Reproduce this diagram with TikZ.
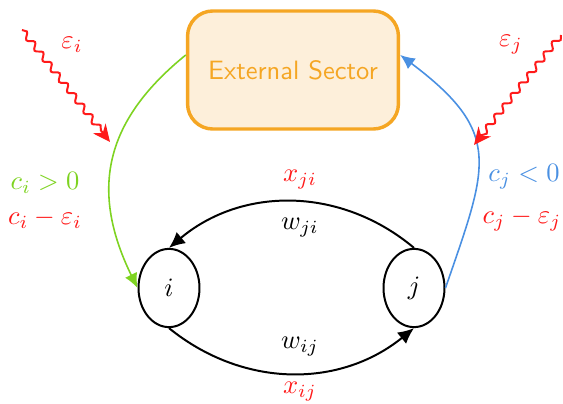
\documentclass[tikz,border=0pt]{standalone}
\usetikzlibrary{arrows.meta,shapes.geometric,decorations.pathmorphing}
\definecolor{cgreen}{HTML}{7ED321}
\definecolor{cblue}{HTML}{4A90E2}
\definecolor{corange}{HTML}{F5A623}
\definecolor{cfill}{HTML}{FDEFDA}
\definecolor{cred}{HTML}{FF1A1A}
\begin{document}
\begin{tikzpicture}[x=0.377pt,y=0.377pt,
  agent/.style={draw,ellipse,line width=0.75pt,minimum width=23pt,minimum height=29.5pt,inner sep=0pt},
  sector/.style={draw=corange,fill=cfill,line width=1.3pt,rounded corners=9.5pt,minimum width=79.5pt,minimum height=44.5pt,text=corange,font=\sffamily},
  flow/.style={line width=0.75pt,-{Latex[length=6pt,width=5.5pt]}},
  cflow/.style={line width=0.6pt,-{Latex[length=5.5pt,width=5pt]}},
  shock/.style={cred,line width=0.75pt,-{Stealth[length=6.5pt,width=6pt]},decorate,decoration={snake,amplitude=1.1pt,segment length=5pt,post length=4pt}},
  lab/.style={inner sep=0pt}]
\useasboundingbox (0,0) rectangle (563,404);
\node[sector] (ext) at (293,334) {External Sector};
\node[agent] (i) at (169,116) {$i$};
\node[agent] (j) at (414,116) {$j$};
\draw[flow] (j.north) to[bend right=40] (i.north);
\draw[flow] (i.south) to[bend right=39] (j.south);
\draw[cflow,cgreen] (ext.172) to[out=219,in=116,looseness=1.15] (i.west);
\draw[cflow,cblue] (j.east) to[out=71,in=-37,looseness=1.4] (ext.8);
\coordinate (si0) at (22,374);
\coordinate (si1) at (110,262);
\coordinate (sj0) at (561,369);
\coordinate (sj1) at (474,259);
\draw[shock] (si0) -- (si1);
\draw[shock] (sj0) -- (sj1);
\node[lab,text=cred] (epsi) at (72,359) {$\varepsilon_i$};
\node[lab,text=cred] (epsj) at (511,359) {$\varepsilon_j$};
\node[lab,text=cgreen] (ci) at (45,221) {$c_i>0$};
\node[lab,text=cred] (cei) at (45,185) {$c_i-\varepsilon_i$};
\node[lab,text=cblue] (cj) at (524,227) {$c_j<0$};
\node[lab,text=cred] (cej) at (522,184) {$c_j-\varepsilon_j$};
\node[lab,text=cred] (xji) at (300,224) {$x_{ji}$};
\node[lab] (wji) at (300,176) {$w_{ji}$};
\node[lab] (wij) at (300,57) {$w_{ij}$};
\node[lab,text=cred] (xij) at (300,12) {$x_{ij}$};
\end{tikzpicture}
\end{document}
